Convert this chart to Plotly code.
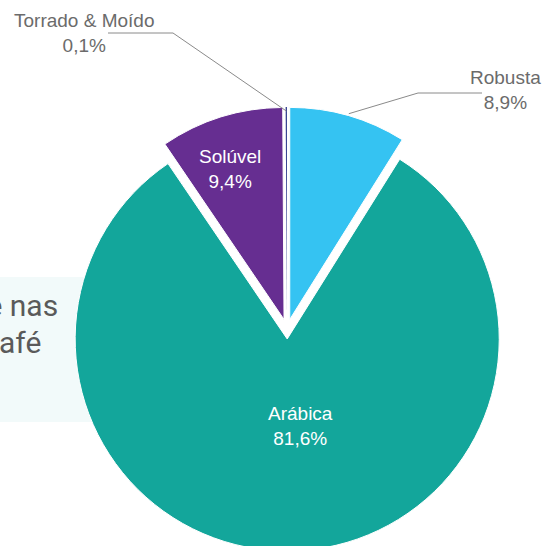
import math
import plotly.graph_objects as go

# ---- data ----
labels = ["Robusta", "Arábica", "Solúvel", "Torrado & Moído"]
values = [8.9, 81.6, 9.4, 0.1]
value_text = ["8,9%", "81,6%", "9,4%", "0,1%"]
colors = ["#35c3f2", "#13a69b", "#662e91", "#2e3b8d"]

W, H = 545, 562
PULL = 0.047

def px(x):
    return x / W

def py(y):
    return 1 - y / H

# pie geometry (pixels)
cy_top, cy_bot = 107, 551
cx_l, cx_r = 47, 527
fig = go.Figure()
fig.add_trace(go.Pie(
    labels=labels, values=values, sort=False, direction="clockwise", rotation=0,
    marker=dict(colors=colors, line=dict(color="white", width=[1, 1, 1, 0])),
    pull=[PULL] * len(values), textinfo="none", hoverinfo="label+percent",
    domain=dict(x=[px(cx_l), px(cx_r)], y=[py(cy_bot), py(cy_top)]),
    showlegend=False,
))

# derived centre and radius, as plotly computes them
side = min(cx_r - cx_l, cy_bot - cy_top)
R = side / (2 + 2 * PULL)
CX = (cx_l + cx_r) / 2
CY = (cy_top + cy_bot) / 2
total = sum(values)
mids = []
acc = 0
for v in values:
    mids.append((acc + v / 2) / total * 2 * math.pi)
    acc += v

def edge_point(i, extra=0):
    a = mids[i]
    off = PULL * R
    x = CX + (off + R + extra) * math.sin(a)
    y = CY - (off + R + extra) * math.cos(a)
    return x, y

shapes = []
# background text box (behind pie)
shapes.append(dict(type="rect", xref="paper", yref="paper", layer="below",
                   x0=px(0), x1=px(160), y0=py(422), y1=py(277),
                   fillcolor="#f2fafa", line=dict(width=0)))

# leader lines
lead_col = "#8a8a8a"
ex, ey = edge_point(0, 2)
shapes.append(dict(type="path", xref="paper", yref="paper",
                   path=f"M {px(482)} {py(93)} L {px(418)} {py(93)} L {px(ex)} {py(ey)}",
                   line=dict(color=lead_col, width=1)))
ex, ey = edge_point(3, -4)
shapes.append(dict(type="path", xref="paper", yref="paper",
                   path=f"M {px(108)} {py(33)} L {px(173)} {py(33)} L {px(ex)} {py(ey)}",
                   line=dict(color=lead_col, width=1)))

annotations = []
FONT = "Liberation Sans, Arial, sans-serif"
def lab(i, x, y, color, size=19):
    annotations.append(dict(text=f"{labels[i]}<br>{value_text[i]}", x=px(x), y=py(y),
                            xref="paper", yref="paper", showarrow=False,
                            xanchor="center", yanchor="middle", align="center",
                            font=dict(family=FONT, size=size, color=color)))

lab(0, 505, 90, "#6b6b6b", 19)
lab(3, 84, 33, "#6b6b6b", 19)
lab(2, 230, 169, "white")
lab(1, 300, 426, "white")

# partially hidden text from the background box
for txt, x, y in [("presente nas", 60, 305), ("do Café", 43, 342)]:
    annotations.append(dict(text=txt, x=px(x), y=py(y), xref="paper", yref="paper",
                            showarrow=False, xanchor="right", yanchor="middle",
                            font=dict(family="Roboto, sans-serif", size=30, color="#5a5a5a")))

fig.update_layout(width=W, height=H, margin=dict(l=0, r=0, t=0, b=0),
                  paper_bgcolor="white", plot_bgcolor="white",
                  shapes=shapes, annotations=annotations)
fig.write_html("out.html", config={"displayModeBar": False},
               post_script="document.body.style.margin='0';")
